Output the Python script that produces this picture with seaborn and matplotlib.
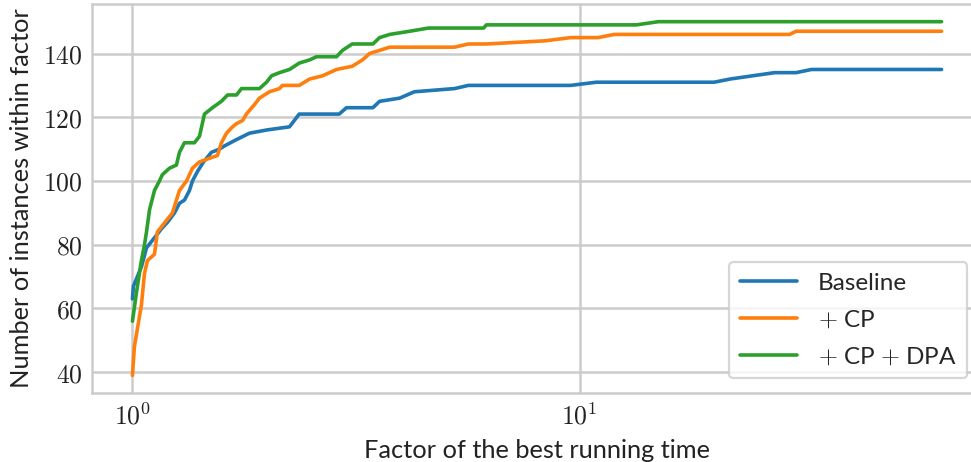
import math
import matplotlib
matplotlib.use("Agg")
import matplotlib.pyplot as plt
from matplotlib.ticker import FuncFormatter, NullFormatter, FixedLocator
import pandas as pd
import seaborn as sns

solvers = ["Baseline", "$+$ CP", "$+$ CP $+$ DPA"]
colors = ["#1f77b4", "#ff7f0e", "#2ca02c"]

# performance profile: factor of best time -> number of instances solved within it
baseline_factor = [1.0, 1.005, 1.047, 1.075, 1.103, 1.132, 1.161, 1.197, 1.242, 1.274,
                   1.307, 1.341, 1.362, 1.398, 1.442, 1.502, 1.565, 1.606, 1.709, 1.827,
                   1.995, 2.245, 2.36, 2.90, 3.01, 3.45, 3.57, 3.96, 4.27, 5.25,
                   5.64, 9.55, 10.9, 20.0, 21.7, 27.3, 30.5, 33.0, 64.5]
baseline_count = [63, 67, 73, 79, 81, 83, 85, 87, 90, 93,
                  94, 97, 100, 103, 106, 109, 110, 111, 113, 115,
                  116, 117, 121, 121, 123, 123, 125, 126, 128, 129,
                  130, 130, 131, 131, 132, 134, 134, 135, 135]

cp_factor = [1.0, 1.010, 1.047, 1.064, 1.080, 1.120, 1.137, 1.197, 1.229, 1.254,
             1.274, 1.321, 1.362, 1.412, 1.549, 1.581, 1.623, 1.674, 1.709, 1.764,
             1.798, 1.875, 1.923, 2.025, 2.132, 2.165, 2.36, 2.49, 2.66, 2.86,
             3.10, 3.27, 3.39, 3.57, 3.76, 5.25, 5.64, 6.19, 8.38, 9.55,
             11.0, 11.95, 29.5, 30.5, 64.5]
cp_count = [39, 48, 61, 71, 75, 77, 84, 88, 90, 94,
            97, 100, 104, 106, 108, 112, 115, 117, 118, 119,
            121, 124, 126, 128, 129, 130, 130, 132, 133, 135,
            136, 138, 140, 141, 142, 142, 143, 143, 144, 145,
            145, 146, 146, 147, 147]

dpa_factor = [1.0, 1.021, 1.047, 1.064, 1.075, 1.092, 1.120, 1.149, 1.167, 1.210,
              1.254, 1.274, 1.307, 1.376, 1.412, 1.449, 1.510, 1.581, 1.632, 1.709,
              1.753, 1.923, 1.995, 2.046, 2.132, 2.245, 2.36, 2.49, 2.58, 2.86,
              2.95, 3.10, 3.45, 3.57, 3.76, 4.17, 4.59, 6.10, 6.19, 13.4,
              15.0, 64.5]
dpa_count = [56, 65, 75, 80, 84, 91, 97, 100, 102, 104,
             105, 109, 112, 112, 114, 121, 123, 125, 127, 127,
             129, 129, 131, 133, 134, 135, 137, 138, 139, 139,
             141, 143, 143, 145, 146, 147, 148, 148, 149, 149,
             150, 150]

frames = []
for name, fx, cnt in zip(solvers,
                         [baseline_factor, cp_factor, dpa_factor],
                         [baseline_count, cp_count, dpa_count]):
    frames.append(pd.DataFrame({"factor": fx, "count": cnt, "solver": name}))
df = pd.concat(frames, ignore_index=True)

sns.set_theme(style="whitegrid")
plt.rcParams["font.family"] = ["Lato", "DejaVu Sans"]
plt.rcParams["mathtext.fontset"] = "cm"

fig = plt.figure(figsize=(9.71, 4.62), dpi=100)
ax = fig.add_axes([92 / 971, 69 / 462, 890 / 971, 389 / 462])

sns.lineplot(data=df, x="factor", y="count", hue="solver", hue_order=solvers,
             palette=colors, estimator=None, sort=False, linewidth=2.6, ax=ax)

ax.set_xscale("log")
ax.xaxis.set_major_locator(FixedLocator([1, 10]))
ax.xaxis.set_major_formatter(FuncFormatter(lambda v, p: r"$10^{%d}$" % round(math.log10(v))))
ax.xaxis.set_minor_formatter(NullFormatter())
ax.set_yticks([40, 60, 80, 100, 120, 140])
ax.yaxis.set_major_formatter(FuncFormatter(lambda v, p: r"$%d$" % v))
ax.tick_params(axis="both", which="major", labelsize=18.5, length=0, pad=7, colors="#222222")
ax.tick_params(axis="x", which="minor", length=0)

ax.grid(True, which="major", color="#cccccc", linewidth=1.8)
for s in ax.spines.values():
    s.set_color("#cccccc")
    s.set_linewidth(1.8)

ax.set_xlabel("Factor of the best running time", fontsize=18.3, color="#222222", labelpad=7)
ax.set_ylabel("Number of instances within factor", fontsize=18.3, color="#222222", labelpad=7)

leg = ax.legend(loc="lower right", fontsize=17.5, frameon=True, borderaxespad=0.6,
                handlelength=2.35, handletextpad=0.85, labelspacing=0.62, borderpad=0.45)
leg.get_frame().set_edgecolor("#cccccc")
leg.get_frame().set_linewidth(1.6)
for h in leg.get_lines():
    h.set_linewidth(2.6)

fig.savefig("out.png", dpi=100)
